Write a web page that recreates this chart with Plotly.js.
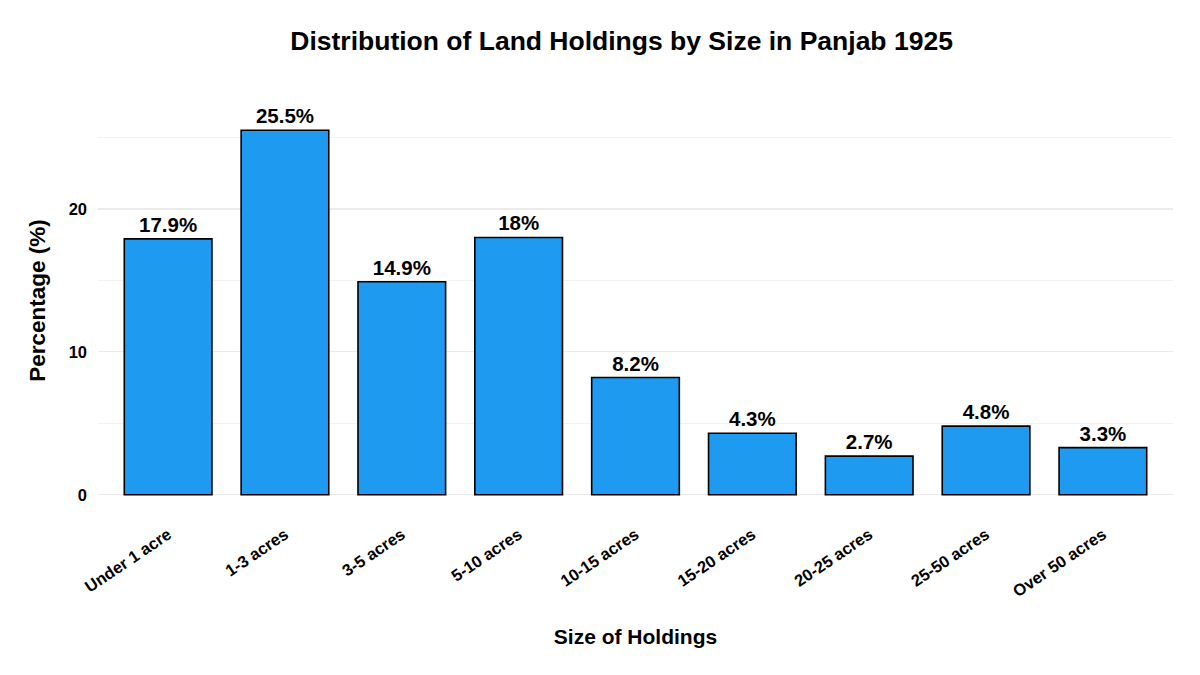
<!DOCTYPE html>
<html>
<head>
<meta charset="utf-8">
<script src="https://cdn.plot.ly/plotly-3.0.1.min.js"></script>
<style>html,body{margin:0;padding:0;background:#fff;}#chart{width:1200px;height:675px;}</style>
</head>
<body>
<div id="chart"></div>
<script>
const categories = ["Under 1 acre","1-3 acres","3-5 acres","5-10 acres","10-15 acres","15-20 acres","20-25 acres","25-50 acres","Over 50 acres"];
const percentages = [17.9, 25.5, 14.9, 18, 8.2, 4.3, 2.7, 4.8, 3.3];
const valueLabels = percentages.map(v => v + "%");

const FONT = "Liberation Sans, Arial, sans-serif";

const trace = {
  type: "bar",
  x: categories,
  y: percentages,
  text: valueLabels,
  textposition: "outside",
  cliponaxis: false,
  textfont: {family: FONT, size: 20.5, color: "#000", weight: "bold"},
  marker: {color: "#1E9BF0", line: {color: "#000", width: 1.6}},
  width: 0.75,
  hoverinfo: "x+y"
};

const layout = {
  width: 1200, height: 675,
  paper_bgcolor: "#fff", plot_bgcolor: "#fff",
  margin: {l: 98, r: 27, t: 112, b: 162},
  showlegend: false,
  title: {
    text: "<b>Distribution of Land Holdings by Size in Panjab 1925</b>",
    font: {family: FONT, size: 26.5, color: "#000"},
    x: 0.518, xanchor: "center", y: 0.94, yanchor: "middle", yref: "container"
  },
  xaxis: {
    type: "category",
    range: [-0.6, 8.6],
    tickangle: -34,
    tickfont: {family: FONT, size: 16.5, color: "#000", weight: "bold"},
    ticklabelstandoff: 8,
    showgrid: false, zeroline: false, showline: false,
    ticks: "", ticklen: 0,
    title: {text: "<b>Size of Holdings</b>", font: {family: FONT, size: 21, color: "#000"}, standoff: 30}
  },
  yaxis: {
    range: [-1.275, 26.775],
    tickvals: [0, 10, 20],
    ticktext: ["0", "10", "20"],
    tickfont: {family: FONT, size: 16.5, color: "#000", weight: "bold"},
    ticklabelstandoff: 10,
    showgrid: true, gridcolor: "#EBEBEB", gridwidth: 1.3,
    minor: {tickvals: [5, 15, 25], showgrid: true, gridcolor: "#F2F2F2", gridwidth: 1},
    zeroline: false, showline: false, ticks: ""
  },
  annotations: [{
    text: "<b>Percentage (%)</b>",
    font: {family: FONT, size: 22.5, color: "#000"},
    textangle: -90,
    xref: "paper", yref: "paper",
    x: 0, y: 0.529, xanchor: "center", yanchor: "middle",
    xshift: -60, showarrow: false
  }],
  font: {family: FONT}
};

Plotly.newPlot("chart", [trace], layout, {displayModeBar: false, staticPlot: true});
</script>
</body>
</html>
